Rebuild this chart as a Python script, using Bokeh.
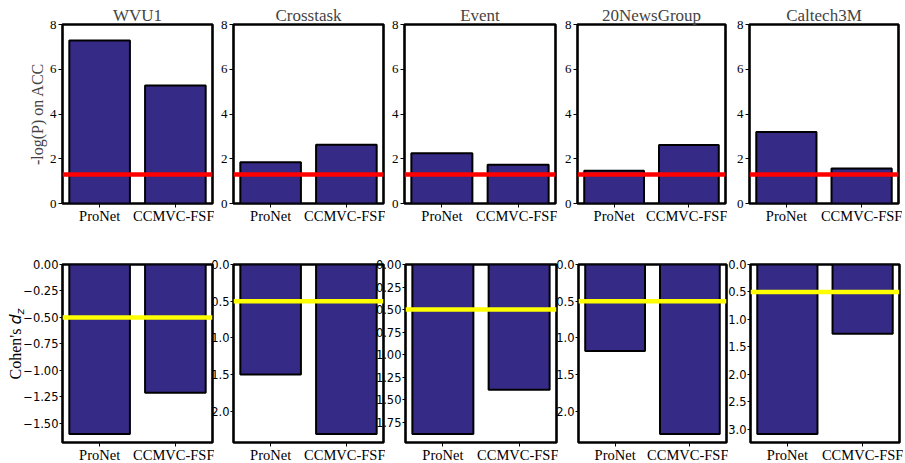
import math
from bokeh.plotting import figure
from bokeh.layouts import row, column
from bokeh.models import Range1d, FixedTicker, Span, Label
from bokeh.embed import file_html
from bokeh.resources import INLINE

# ---------------- data ----------------
datasets = ["WVU1", "Crosstask", "Event", "20NewsGroup", "Caltech3M"]
methods = ["ProNet", "CCMVC-FSF"]
method_pos = [0, 1]

# -log(P) on ACC
neglogp_pronet = [7.28, 1.84, 2.25, 1.46, 3.19]
neglogp_ccmvc = [5.27, 2.63, 1.73, 2.62, 1.56]
p_level = 0.05
top_ticks = [0, 2, 4, 6, 8]
top_tick_labels = ["0", "2", "4", "6", "8"]
top_ymax = 8

# Cohen's d_z
cohen_pronet = [-1.60, -1.50, -1.88, -1.18, -3.09]
cohen_ccmvc = [-1.21, -2.31, -1.39, -2.31, -1.26]
effect_level = -0.5
cohen_ticks = [
    [0, -0.25, -0.5, -0.75, -1.0, -1.25, -1.5],
    [0, -0.5, -1.0, -1.5, -2.0],
    [0, -0.25, -0.5, -0.75, -1.0, -1.25, -1.5, -1.75],
    [0, -0.5, -1.0, -1.5, -2.0],
    [0, -0.5, -1.0, -1.5, -2.0, -2.5, -3.0],
]
cohen_tick_labels = [
    ["0.00", "\u22120.25", "\u22120.50", "\u22120.75", "\u22121.00", "\u22121.25", "\u22121.50"],
    ["0.0", "0.5", "1.0", "1.5", "2.0"],
    ["0.00", "0.25", "0.50", "0.75", "1.00", "1.25", "1.50", "1.75"],
    ["0.0", "0.5", "1.0", "1.5", "2.0"],
    ["0.0", "0.5", "1.0", "1.5", "2.0", "2.5", "3.0"],
]

# ---------------- style / layout ----------------
BAR = "#352a86"
SERIF = "Liberation Serif"
SANS = "DejaVu Sans"
frame_w = [150, 150, 151, 148, 149]
left_border_top = [62, 32, 32, 32, 32]
left_border_bot = [42, 32, 32, 32, 32]
margin_left_top = [0, -13, -13, -12, -10]
margin_left_bot = [-14, -13, -13, -12, -10]
right_border = [2, 2, 2, 2, 4]
LABEL_COL_W = 34
TOP_FH, TOP_BT, TOP_BB = 179, 24, 26
BOT_FH, BOT_BT, BOT_BB = 178, 35, 20

x_lo, x_hi = -0.49, 1.49


def base_fig(i, ymin, ymax, fh, lb, ml, top_border, bottom_border):
    p = figure(
        output_backend="svg", toolbar_location=None,
        frame_width=frame_w[i], frame_height=fh,
        x_range=Range1d(x_lo, x_hi), y_range=Range1d(ymin, ymax),
        min_border_left=lb, min_border_right=right_border[i],
        min_border_top=top_border, min_border_bottom=bottom_border,
        margin=(0, 0, 0, ml),
    )
    p.border_fill_alpha = 0
    p.background_fill_color = "white"
    p.outline_line_color = "black"
    p.outline_line_width = 2.6
    p.xgrid.visible = False
    p.ygrid.visible = False
    for ax in (p.xaxis[0], p.yaxis[0]):
        ax.axis_line_color = None
        ax.minor_tick_line_color = None
        ax.major_tick_line_color = "black"
        ax.major_tick_line_width = 1
        ax.major_tick_in = 0
        ax.major_tick_out = 4
    xa = p.xaxis[0]
    xa.ticker = FixedTicker(ticks=method_pos)
    xa.major_label_overrides = {float(k): m for k, m in zip(method_pos, methods)}
    xa.major_label_text_font = SERIF
    xa.major_label_text_font_size = "14.5px"
    xa.major_label_text_color = "black"
    xa.major_label_standoff = 0
    return p


def bars(p, v1, v2):
    p.vbar(x=method_pos, top=[v1, v2], bottom=0, width=0.8,
           fill_color=BAR, line_color="black", line_width=2)


top_figs = []
bot_figs = []
for i, name in enumerate(datasets):
    # ---- top: -log(P) ----
    p = base_fig(i, 0, top_ymax, TOP_FH, left_border_top[i], margin_left_top[i], TOP_BT, TOP_BB)
    p.title.text = name
    p.title.text_font = SERIF
    p.title.text_font_size = "17px"
    p.title.text_font_style = "normal"
    p.title.align = "center"
    p.title.standoff = 0
    bars(p, neglogp_pronet[i], neglogp_ccmvc[i])
    p.add_layout(Span(location=-math.log10(p_level), dimension="width",
                      line_color="red", line_width=4.5))
    ya = p.yaxis[0]
    ya.ticker = FixedTicker(ticks=top_ticks)
    ya.major_label_overrides = {float(t): s for t, s in zip(top_ticks, top_tick_labels)}
    ya.major_label_text_font = SERIF
    ya.major_label_text_font_size = "13px"
    ya.major_label_text_color = "black"
    ya.major_label_standoff = 2
    if i == 0:
        ya.axis_label = "-log(P) on ACC"
        ya.axis_label_text_font = SERIF
        ya.axis_label_text_font_size = "16px"
        ya.axis_label_text_font_style = "normal"
        ya.axis_label_standoff = 1
    top_figs.append(p)

    # ---- bottom: Cohen's d_z ----
    lo = min(cohen_pronet[i], cohen_ccmvc[i]) * 1.05
    q = base_fig(i, lo, 0, BOT_FH, left_border_bot[i], margin_left_bot[i], BOT_BT, BOT_BB)
    bars(q, cohen_pronet[i], cohen_ccmvc[i])
    q.add_layout(Span(location=effect_level, dimension="width",
                      line_color="#ffff00", line_width=4.5))
    yb = q.yaxis[0]
    yb.ticker = FixedTicker(ticks=cohen_ticks[i])
    yb.major_label_overrides = {float(t): s for t, s in zip(cohen_ticks[i], cohen_tick_labels[i])}
    yb.major_label_text_font = SANS
    yb.major_label_text_font_size = "11.5px"
    yb.major_label_text_color = "black"
    yb.major_label_standoff = 1
    yb.major_tick_out = 3
    bot_figs.append(q)

# ---- narrow column that carries the rotated "Cohen's d_z" axis title ----
lab_h = BOT_BT + BOT_FH + BOT_BB
lf = figure(output_backend="svg", toolbar_location=None, title=None,
            frame_width=LABEL_COL_W, frame_height=lab_h,
            min_border=0, x_range=Range1d(0, LABEL_COL_W), y_range=Range1d(0, lab_h),
            x_axis_type=None, y_axis_type=None)
lf.outline_line_color = None
lf.background_fill_alpha = 0
lf.border_fill_alpha = 0
lf.xgrid.visible = False
lf.ygrid.visible = False
common = dict(angle=math.pi / 2, text_align="left", text_baseline="middle",
              text_color="black")
lf.add_layout(Label(text="Cohen's", x=15, y=118, text_font=SERIF,
                    text_font_size="16px", **common))
lf.add_layout(Label(text="d", x=15, y=173, text_font=SANS, text_font_style="italic",
                    text_font_size="16px", **common))
lf.add_layout(Label(text="z", x=20, y=183, text_font=SANS, text_font_style="italic",
                    text_font_size="11px", **common))

layout = column(row(*top_figs, spacing=0), row(lf, *bot_figs, spacing=0), spacing=0)

open("out.html", "w").write(file_html(layout, INLINE))
